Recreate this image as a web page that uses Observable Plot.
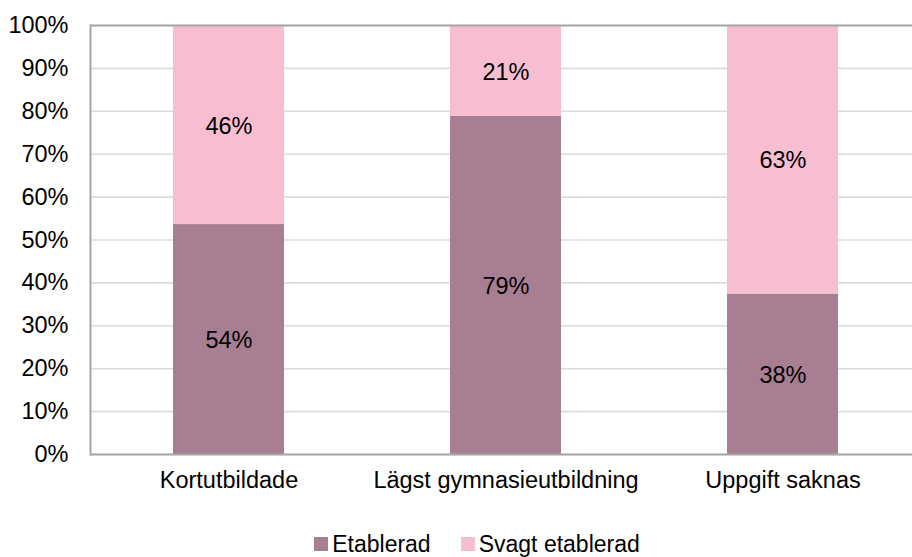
<!DOCTYPE html>
<html>
<head>
<meta charset="utf-8">
<script src="https://cdn.jsdelivr.net/npm/d3@7"></script>
<script src="https://cdn.jsdelivr.net/npm/@observablehq/plot@0.6"></script>
<style>
  body { margin: 0; background: #fff; font-family: "Liberation Sans", Arial, sans-serif; overflow: hidden; }
  #chart svg { display: block; overflow: visible; }
  #legend { display: flex; justify-content: center; gap: 30px; font-size: 23px; line-height: 24px; color: #000; height: 68px; align-items: center; padding-left: 42px; }
  .item { display: flex; align-items: center; gap: 4px; }
  .sw { width: 14px; height: 14px; display: inline-block; }
</style>
</head>
<body>
<div id="chart"></div>
<div id="legend"></div>
<script>
const categories = ["Kortutbildade", "Lägst gymnasieutbildning", "Uppgift saknas"];
const seriesNames = ["Etablerad", "Svagt etablerad"];
const etablerad = [53.6, 78.8, 37.4];
const svagt = [46.4, 21.2, 62.6];
const etableradLabels = ["54%", "79%", "38%"];
const svagtLabels = ["46%", "21%", "63%"];
const yTicks = [0, 10, 20, 30, 40, 50, 60, 70, 80, 90, 100];
const colors = ["#A87E93", "#F7BDD1"];

const data = [];
categories.forEach((c, i) => {
  data.push({cat: c, series: seriesNames[0], value: etablerad[i], label: etableradLabels[i]});
  data.push({cat: c, series: seriesNames[1], value: svagt[i], label: svagtLabels[i]});
});

const FS = 23.5;
const chart = Plot.plot({
  width: 912,
  height: 510,
  marginTop: 25,
  marginBottom: 56,
  marginLeft: 90,
  marginRight: -9,
  style: {fontFamily: "Liberation Sans, Arial, sans-serif", fontSize: FS + "px", color: "#000", overflow: "visible"},
  x: {domain: categories, paddingInner: 0.6, paddingOuter: 0.3, label: null},
  y: {domain: [0, 100], label: null},
  color: {domain: seriesNames, range: colors},
  marks: [
    Plot.ruleY(yTicks, {stroke: "#dcdcdc", strokeWidth: 1.6}),
    Plot.barY(data, Plot.stackY({x: "cat", y: "value", z: "series", fill: "series", order: seriesNames})),
    Plot.text(data, Plot.stackY({x: "cat", y: "value", z: "series", text: "label", order: seriesNames, fill: "#000", fontSize: FS, dy: 1})),
    Plot.frame({stroke: "#a6a6a6", strokeWidth: 2, anchor: "left"}),
    Plot.ruleY([0, 100], {stroke: "#a6a6a6", strokeWidth: 2}),
    Plot.axisY({ticks: yTicks, tickFormat: d => d + "%", tickSize: 0, tickPadding: 22, fontSize: FS, label: null}),
    Plot.axisX({tickSize: 0, tickPadding: 17, fontSize: FS, label: null})
  ]
});
document.getElementById("chart").appendChild(chart);

const legend = document.getElementById("legend");
seriesNames.forEach((s, i) => {
  const it = document.createElement("span");
  it.className = "item";
  const sw = document.createElement("span");
  sw.className = "sw";
  sw.style.background = colors[i];
  it.appendChild(sw);
  it.appendChild(document.createTextNode(s));
  legend.appendChild(it);
});
</script>
</body>
</html>
